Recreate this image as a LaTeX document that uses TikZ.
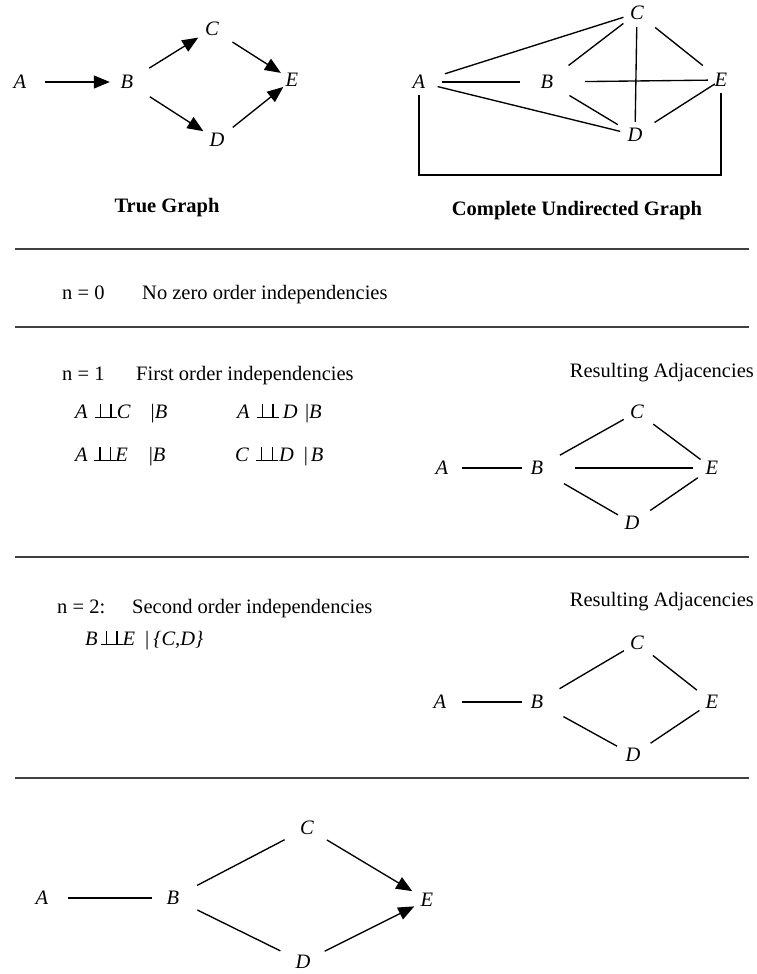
\documentclass[tikz,border=0pt]{standalone}
\usepackage{fontspec}
\setmainfont{Liberation Serif}
\usetikzlibrary{arrows.meta}
% double up-tack (conditional independence): two stems on a shared base
\newcommand{\indep}{\mbox{\rlap{\rule{22pt}{1.4pt}}\hspace{5pt}\rule{1.4pt}{14pt}\hspace{9.2pt}\rule{1.4pt}{14pt}\hspace{5pt}}}
\newcommand{\given}{|}

\begin{document}
\begin{tikzpicture}[x=1pt,y=-1pt,
  every node/.style={font=\fontsize{20.5}{24}\selectfont, inner sep=0pt},
  var/.style={circle, minimum size=26pt, font=\fontsize{20.5}{24}\selectfont\itshape},
  link/.style={line width=1.35pt},
  dir/.style={link, -{Triangle[length=16pt,width=13pt]}},
  rule/.style={line width=1.5pt, black!75},
  caption/.style={font=\fontsize{20.5}{24}\selectfont\bfseries},
  txt/.style={anchor=base west},
  rtxt/.style={anchor=base east},
]
\useasboundingbox (0,0) rectangle (756,974);

% ---------- true graph ----------
\node[var] (tA) at (20,82)  {A};
\node[var] (tB) at (127,82) {B};
\node[var] (tC) at (212,29) {C};
\node[var] (tE) at (292,80) {E};
\node[var] (tD) at (217,140) {D};
\draw[dir, shorten <=12pt, shorten >=4pt] (tA) -- (tB);
\draw[dir, shorten <=13pt, shorten >=3pt] (tB) -- (tC);
\draw[dir, shorten <=11pt, shorten >=0pt] (tC) -- (tE);
\draw[dir, shorten <=14pt, shorten >=3pt] (tB) -- (tD);
\draw[dir, shorten <=7pt, shorten >=-2pt] (tD) -- (tE);
\node[caption] (cap1) at (167,208) {True Graph};

% ---------- complete undirected graph ----------
\node[var] (uA) at (419,82)  {A};
\node[var] (uB) at (547,82)  {B};
\node[var] (uC) at (637,13)  {C};
\node[var] (uE) at (721,80)  {E};
\node[var] (uD) at (635,135) {D};
\draw[link, shorten <=14pt, shorten >=1pt] (uA) -- (uC);
\draw[link, shorten <=10pt, shorten >=14pt] (uA) -- (uB);
\draw[link, shorten <=6pt, shorten >=2pt] (uA) -- (uD);
\draw[link, shorten <=14pt, shorten >=4pt] (uB) -- (uC);
\draw[link, shorten <=25pt, shorten >=0pt] (uB) -- (uE);
\draw[link, shorten <=13pt, shorten >=7pt] (uB) -- (uD);
\draw[link, shorten <=1pt, shorten >=0pt] (uC) -- (uD);
\draw[link, shorten <=10pt, shorten >=10pt] (uC) -- (uE);
\draw[link, shorten <=10pt, shorten >=-6pt] (uD) -- (uE);
\draw[link] (uA.south) -- (uA.south |- 0,175) -| (uE.south);
\node[caption] (cap2) at (577,211) {Complete Undirected Graph};

% ---------- section rules ----------
\coordinate (r1l) at (15,249);  \coordinate (r1r) at (749,249);
\coordinate (r2l) at (15,327);  \coordinate (r2r) at (749,327);
\coordinate (r3l) at (15,557);  \coordinate (r3r) at (749,557);
\coordinate (r4l) at (15,778);  \coordinate (r4r) at (749,778);
\draw[rule] (r1l) -- (r1r);
\draw[rule] (r2l) -- (r2r);
\draw[rule] (r3l) -- (r3r);
\draw[rule] (r4l) -- (r4r);

% ---------- n = 0 ----------
\node[txt] (n0)  at (62,299)  {n = 0};
\node[txt] (n0t) at (142,299) {No zero order independencies};

% ---------- n = 1 ----------
\node[txt]  (n1)  at (62,380)  {n = 1};
\node[txt]  (n1t) at (136,380) {First order independencies};
\node[rtxt] (res1) at (754,377) {Resulting Adjacencies};

\node[txt] (i1) at (75,418)  {\textit{A}\hspace{7pt}\indep\hspace{0pt}\textit{C}\hspace{20pt}\given\textit{B}};
\node[txt] (i2) at (237,418) {\textit{A}\hspace{7pt}\indep\hspace{4pt}\textit{D}\hspace{7.5pt}\given\textit{B}};
\node[txt] (i3) at (75,461)  {\textit{A}\hspace{6.5pt}\indep\hspace{-1pt}\textit{E}\hspace{21pt}\given\textit{B}};
\node[txt] (i4) at (235,461) {\textit{C}\hspace{7pt}\indep\hspace{1pt}\textit{D}\hspace{10pt}\given\hspace{3pt}\textit{B}};

\node[var] (pA) at (442,468) {A};
\node[var] (pB) at (537,468) {B};
\node[var] (pC) at (637,412) {C};
\node[var] (pE) at (712,468) {E};
\node[var] (pD) at (632,523) {D};
\draw[link, shorten <=7pt,  shorten >=2pt] (pA) -- (pB);
\draw[link, shorten <=13pt, shorten >=2pt] (pB) -- (pC);
\draw[link, shorten <=7pt,  shorten >=1pt] (pC) -- (pE);
\draw[link, shorten <=25pt, shorten >=6pt] (pB) -- (pE);
\draw[link, shorten <=18pt, shorten >=3pt] (pB) -- (pD);
\draw[link, shorten <=9pt,  shorten >=4pt] (pD) -- (pE);

% ---------- n = 2 ----------
\node[txt]  (n2)  at (57,613)  {n = 2:};
\node[txt]  (n2t) at (132,613) {Second order independencies};
\node[rtxt] (res2) at (754,606) {Resulting Adjacencies};
\node[txt] (i5) at (85,645) {\textit{B}\hspace{3pt}\indep\textit{E}\hspace{10pt}\given\hspace{4pt}\textit{\{C,D\}}};

\node[var] (qA) at (440,702) {A};
\node[var] (qB) at (537,702) {B};
\node[var] (qC) at (637,643) {C};
\node[var] (qE) at (712,702) {E};
\node[var] (qD) at (633,755) {D};
\draw[link, shorten <=9pt,  shorten >=2pt] (qA) -- (qB);
\draw[link, shorten <=13pt, shorten >=2pt] (qB) -- (qC);
\draw[link, shorten <=7pt,  shorten >=6pt] (qC) -- (qE);
\draw[link, shorten <=17pt, shorten >=5pt] (qB) -- (qD);
\draw[link, shorten <=8pt,  shorten >=2pt] (qD) -- (qE);

% ---------- final pattern ----------
\node[var] (fA) at (42,898)  {A};
\node[var] (fB) at (173,898) {B};
\node[var] (fC) at (307,828) {C};
\node[var] (fE) at (427,900) {E};
\node[var] (fD) at (303,962) {D};
\draw[link, shorten <=13pt, shorten >=8pt]  (fA) -- (fB);
\draw[link, shorten <=14pt, shorten >=12pt] (fB) -- (fC);
\draw[link, shorten <=14pt, shorten >=12pt] (fB) -- (fD);
\draw[dir,  shorten <=10pt, shorten >=4pt]  (fC) -- (fE);
\draw[dir,  shorten <=11pt, shorten >=1pt]  (fD) -- (fE);
\end{tikzpicture}
\end{document}
